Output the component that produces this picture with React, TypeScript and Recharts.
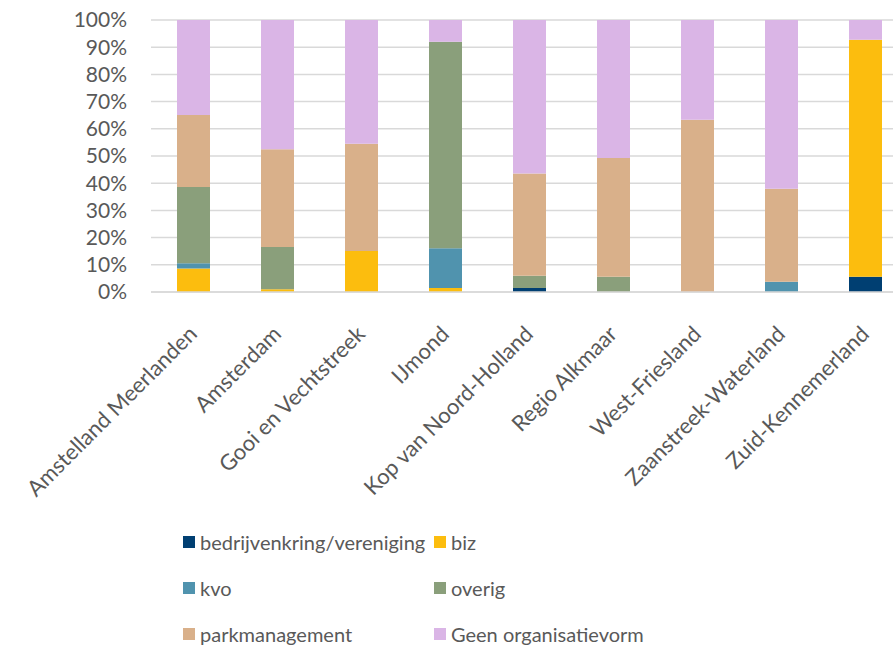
import React from "react";
import { BarChart, Bar, XAxis, YAxis, CartesianGrid } from "recharts";

const regions = [
    "Amstelland Meerlanden",
    "Amsterdam",
    "Gooi en Vechtstreek",
    "IJmond",
    "Kop van Noord-Holland",
    "Regio Alkmaar",
    "West-Friesland",
    "Zaanstreek-Waterland",
    "Zuid-Kennemerland",
];

// percentages per region
const bedrijvenkring = [0, 0, 0, 0, 1.5, 0, 0, 0, 5.6];
const biz = [8.6, 1.0, 15.1, 1.5, 0, 0, 0, 0, 87.1];
const kvo = [2.0, 0, 0, 14.6, 0, 0, 0, 3.8, 0];
const overig = [28.0, 15.5, 0, 75.9, 4.5, 5.6, 0, 0, 0];
const parkmanagement = [26.5, 36.0, 39.4, 0, 37.6, 43.7, 63.3, 34.2, 0];
const geen = [34.9, 47.5, 45.5, 8.0, 56.4, 50.7, 36.7, 62.0, 7.3];

const yTicks = [0, 0.1, 0.2, 0.3, 0.4, 0.5, 0.6, 0.7, 0.8, 0.9, 1];

const series = [
    { key: "bedrijvenkring", name: "bedrijvenkring/vereniging", color: "#003F72", values: bedrijvenkring },
    { key: "biz", name: "biz", color: "#FCBD0E", values: biz },
    { key: "kvo", name: "kvo", color: "#5093AE", values: kvo },
    { key: "overig", name: "overig", color: "#8A9F7B", values: overig },
    { key: "park", name: "parkmanagement", color: "#D9B08A", values: parkmanagement },
    { key: "geen", name: "Geen organisatievorm", color: "#DAB5E6", values: geen },
];

const data = regions.map((name, i) => {
    const row: Record<string, string | number> = { name };
    series.forEach((s) => {
        row[s.key] = s.values[i];
    });
    return row;
});

const FONT = "Lato, 'Open Sans', sans-serif";
const TEXT = "#595959";

const XTick = (props: any) => {
    const { x, y, payload } = props;
    const ty = y + 30;
    return (
        <text
            x={x}
            y={ty}
            dy="0.35em"
            textAnchor="end"
            transform={`rotate(-45, ${x}, ${ty})`}
            fill={TEXT}
            fontSize={22}
            fontFamily={FONT}
        >
            {payload.value}
        </text>
    );
};

const LegendBox = () => {
    return (
        <div
            style={{
                position: "absolute",
                left: 183,
                top: 528,
                display: "grid",
                gridTemplateColumns: "251px auto",
                rowGap: 19,
                fontFamily: FONT,
                fontSize: 20,
                color: TEXT,
            }}
        >
            {series.map((s) => (
                <div key={s.key} style={{ display: "flex", alignItems: "center", height: 27 }}>
                    <span
                        style={{
                            display: "inline-block",
                            width: 12,
                            height: 12,
                            background: s.color,
                            marginRight: 5,
                        }}
                    />
                    {s.name}
                </div>
            ))}
        </div>
    );
};

export default function App() {
    return (
        <div
            style={{
                position: "fixed",
                left: 0,
                top: 0,
                width: 893,
                height: 647,
                overflow: "hidden",
                background: "#fff",
            }}
        >
            <BarChart
                width={920}
                height={647}
                data={data}
                stackOffset="expand"
                barSize={33}
                margin={{ top: 20, right: 13, left: 0, bottom: 0 }}
            >
                <CartesianGrid vertical={false} stroke="#D9D9D9" strokeWidth={1.5} />
                <XAxis
                    dataKey="name"
                    interval={0}
                    height={355}
                    tickLine={false}
                    axisLine={{ stroke: "#D9D9D9", strokeWidth: 1.5 }}
                    tick={<XTick />}
                />
                <YAxis
                    width={151}
                    domain={[0, 1]}
                    ticks={yTicks}
                    interval={0}
                    tickLine={false}
                    axisLine={false}
                    tickMargin={18}
                    tickFormatter={(v) => `${Math.round(v * 100)}%`}
                    tick={{ fill: TEXT, fontSize: 21, fontFamily: FONT }}
                />
                {series.map((s) => (
                    <Bar
                        key={s.key}
                        dataKey={s.key}
                        name={s.name}
                        stackId="a"
                        fill={s.color}
                        isAnimationActive={false}
                    />
                ))}
            </BarChart>
            <LegendBox />
        </div>
    );
}
